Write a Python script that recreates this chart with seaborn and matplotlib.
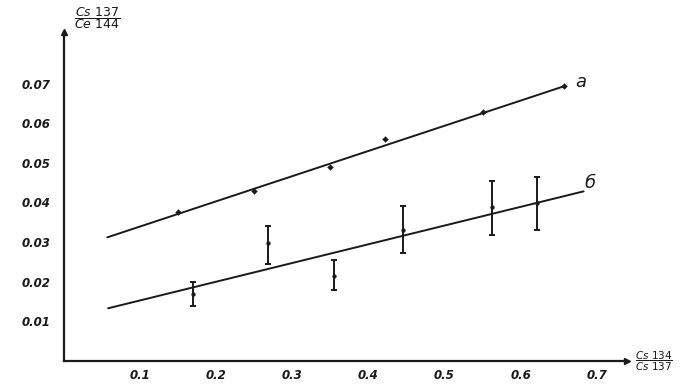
import matplotlib
matplotlib.use("Agg")
import matplotlib.pyplot as plt
import pandas as pd
import seaborn as sns

# fitted lines (end points)
fit_x_a = [0.057, 0.657]
fit_y_a = [0.0312, 0.0693]
fit_x_b = [0.058, 0.683]
fit_y_b = [0.0133, 0.0428]

# curve "а" points
a_x = [0.150, 0.250, 0.349, 0.422, 0.551, 0.657]
a_y = [0.0375, 0.0428, 0.0490, 0.0560, 0.0628, 0.0693]

# curve "б" points with error bars
b_x = [0.170, 0.268, 0.355, 0.446, 0.562, 0.622]
b_y = [0.0170, 0.0298, 0.0215, 0.0330, 0.0388, 0.0398]
b_lo = [0.0140, 0.0245, 0.0178, 0.0273, 0.0318, 0.0330]
b_hi = [0.0200, 0.0340, 0.0255, 0.0390, 0.0453, 0.0465]

x_ticks = [0.1, 0.2, 0.3, 0.4, 0.5, 0.6, 0.7]
x_labels = ["0.1", "0.2", "0.3", "0.4", "0.5", "0.6", "0.7"]
y_ticks = [0.01, 0.02, 0.03, 0.04, 0.05, 0.06, 0.07, 0.08]
y_labels = ["0.01", "0.02", "0.03", "0.04", "0.05", "0.06", "0.07", ""]

INK = "#1a1a1a"

sns.set_theme(style="white")
plt.rcParams["font.family"] = ["DejaVu Sans"]

fig = plt.figure(figsize=(6.91, 3.90), dpi=100)
ax = fig.add_axes([64 / 691, 29 / 390, 563 / 691, 329 / 390])

lines = pd.DataFrame({
    "x": fit_x_a + fit_x_b,
    "y": fit_y_a + fit_y_b,
    "curve": ["а", "а", "б", "б"],
})
sns.lineplot(data=lines, x="x", y="y", units="curve", estimator=None,
             color=INK, lw=1.4, ax=ax, legend=False)

pts_a = pd.DataFrame({"x": a_x, "y": a_y})
sns.scatterplot(data=pts_a, x="x", y="y", color=INK, s=9, marker="D",
                edgecolor=INK, ax=ax, legend=False)

pts_b = pd.DataFrame({"x": b_x, "y": b_y, "lo": b_lo, "hi": b_hi})
ax.errorbar(pts_b["x"], pts_b["y"],
            yerr=[pts_b["y"] - pts_b["lo"], pts_b["hi"] - pts_b["y"]],
            fmt="none", ecolor=INK, elinewidth=1.4, capsize=2.5, capthick=1.4)
sns.scatterplot(data=pts_b, x="x", y="y", color=INK, s=8, edgecolor=INK,
                ax=ax, legend=False)

ax.set_xlim(0, 0.74)
ax.set_ylim(0, 0.083)
ax.set_xticks(x_ticks)
ax.set_xticklabels(x_labels)
ax.set_yticks(y_ticks)
ax.set_yticklabels(y_labels)
ax.tick_params(axis="both", direction="inout", length=4, width=1.2, color=INK,
               labelsize=8.5, labelcolor=INK)
ax.tick_params(axis="x", pad=4)
ax.tick_params(axis="y", pad=8)
for lab in ax.get_xticklabels() + ax.get_yticklabels():
    lab.set_fontstyle("italic")
    lab.set_fontweight("bold")
ax.set_xlabel("")
ax.set_ylabel("")

for side in ["top", "right"]:
    ax.spines[side].set_visible(False)
for side in ["left", "bottom"]:
    ax.spines[side].set_color(INK)
    ax.spines[side].set_linewidth(1.6)

# arrow heads at the axis ends
ax.plot(1, 0, ">", color=INK, ms=4, transform=ax.transAxes, clip_on=False)
ax.plot(0, 1, "^", color=INK, ms=4, transform=ax.transAxes, clip_on=False)

# axis titles written as fractions
ax.text(0.018, 1.003, r"$\dfrac{Cs\ 137}{Ce\ 144}$", transform=ax.transAxes,
        fontsize=9, color=INK, ha="left", va="bottom")
ax.text(1.015, 0.0, r"$\dfrac{Cs\ 134}{Cs\ 137}$", transform=ax.transAxes,
        fontsize=7.5, color=INK, ha="left", va="center")

# curve labels
ax.text(0.672, 0.0705, "а", fontsize=13, fontstyle="italic", color=INK,
        ha="left", va="center")
ax.text(0.684, 0.0448, "б", fontsize=13, fontstyle="italic", color=INK,
        ha="left", va="center")

fig.savefig("out.png", dpi=100, facecolor="white")
